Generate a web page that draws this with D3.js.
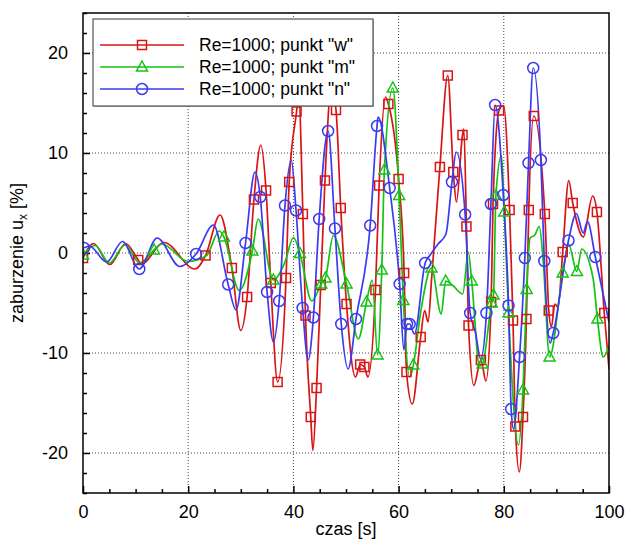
<!DOCTYPE html>
<html><head><meta charset="utf-8">
<script src="https://cdn.jsdelivr.net/npm/d3@7"></script>
<style>body{margin:0;background:#fff}svg{display:block}text{font-family:"Liberation Sans",Arial,sans-serif}</style>
</head><body>
<script>
// ---- data ----
const seriesNames = ['Re=1000; punkt "w"', 'Re=1000; punkt "m"', 'Re=1000; punkt "n"'];
const xTicks = [0, 20, 40, 60, 80, 100];
const yTicks = [-20, -10, 0, 10, 20];
// [time, value, marker?]
const redData = [
 [0,-0.5,1],[2.0,0.95],[5.1,-1.15],[8.1,0.95],[10.5,-0.7,1],[11.1,-1.1],[15.4,1.05],[21.3,-1.6],
 [23.3,-0.25,1],[26.05,3.8],[28.3,-1.5,1],[30.0,-7.75],[31.2,-4.4,1],[32.5,5.35,1],[33.8,10.8],
 [34.8,6.25,1],[35.7,-3.0,1],[37.0,-12.9,1],[38.6,-2.5,1],[39.2,7.1,1],[40.6,14.15,1],[41.0,16.0],
 [41.8,3.9,1],[42.3,-6.25,1],[43.3,-16.4,1],[43.7,-19.75],[44.4,-13.5,1],[45.2,-3.2,1],[46.0,7.25,1],
 [47.2,16.5],[48.1,14.3,1],[49.0,4.5,1],[50.1,-5.1,1],[51.8,-12.4],[52.7,-11.15,1],[53.5,-11.4,1],
 [54.15,-12.4],[55.6,-3.7,1],[56.3,6.75,1],[57.5,15.6],[58.05,14.9,1],[60.0,7.4,1],[61.05,-2.0,1],
 [61.5,-11.9,1],[62.6,-15.1],[64.2,-8.4,1],[64.95,-5.75],[65.6,-6.9],[66.3,-2.4],[67.85,8.6,1],
 [69.35,17.75,1],[70.4,8.1,1],[71.0,5.1],[72.15,11.8,1],[72.4,12.4],[72.9,2.65,1],[73.3,-7.25,1],
 [74.3,-13.25],[75.65,-10.7,1],[76.6,-12.8],[77.6,-4.9,1],[77.95,4.9,1],[79.1,14.25,1],[79.95,14.75],
 [81.1,4.3,1],[81.75,-6.75,1],[82.2,-17.35,1],[82.95,-21.9],[83.65,-16.4,1],[84.3,-6.6,1],[84.75,4.3,1],
 [85.7,13.7,1],[87.8,3.9,1],[88.55,-5.75,1],[89.05,-7.4],[89.7,-5.1],[90.3,-5.4],[91.2,0.1,1],
 [92.35,7.25],[93.1,5.0,1],[95.1,1.6],[96.9,5.7],[97.7,4.1,1],[99.1,-6.0,1],[100,-11.6]
];
const greenData = [
 [0,-0.2,1],[2.3,0.75],[5.0,-1.0],[8.0,0.8],[10.8,-1.0],[13.5,0.3,1],[15.0,0.9],[20.0,-0.85],
 [23.5,-0.25],[25.9,2.2],[26.8,1.6,1],[29.7,-3.75],[32.2,0.2,1],[33.3,3.4],[36.2,-2.7,1],[38.4,-0.9],
 [40.0,1.55],[41.25,-0.05,1],[43.5,-4.8],[45.3,-3.1,1],[46.1,-2.5,1],[47.6,1.75],[50.1,-3.1,1],
 [52.35,-8.6],[53.9,-4.9,1],[55.0,-2.7],[56.0,-10.2,1],[56.8,-1.7,1],[57.3,8.3,1],[58.9,16.5,1],
 [60.1,5.75,1],[60.9,-4.75,1],[62.1,-12.4],[62.8,-11.2,1],[64.2,-5.9],[66.25,-1.5,1],[68.1,-6.1],
 [68.95,-2.8,1],[70.3,-3.25],[72.2,-4.1],[73.25,0.1],[73.9,-2.8,1],[75.4,-11.3],[75.95,-11.1,1],
 [77.7,-5.0,1],[78.05,-4.2,1],[78.5,5.75,1],[79.55,9.75],[80.1,4.1,1],[80.9,-6.0,1],[82.8,-19.2],
 [83.65,-13.7,1],[84.35,-3.65,1],[85.0,1.5],[85.9,1.8],[86.75,2.65],[87.5,-0.9],[88.7,-10.4,1],
 [91.2,-2.0,1],[92.3,0.9],[93.9,-1.85,1],[94.8,0.4],[97.0,-2.6],[97.8,-6.6,1],[98.9,-10.4],[100,-9.3]
];
const blueData = [
 [0.2,0.5,1],[1.2,0.7],[4.5,-0.9],[7.5,1.15],[10.7,-1.6,1],[14.1,1.5],[18.4,-1.35],[21.5,-0.1,1],
 [24.8,2.8],[27.6,-3.15,1],[29.1,-5.7],[30.9,1.0,1],[32.7,8.1],[33.7,5.6,1],[35.0,-3.9,1],[36.2,-8.9],
 [37.3,-4.8,1],[38.4,4.75,1],[39.6,9.3],[40.5,4.25,1],[41.75,-5.5,1],[42.8,-10.7],[43.8,-6.45,1],
 [44.9,3.4,1],[46.6,12.2,1],[47.9,2.45,1],[49.1,-7.1,1],[50.4,-11.6],[51.9,-6.6,1],[54.6,2.75,1],
 [55.9,12.7,1],[56.1,13.6],[58.3,6.5,1],[60.2,-3.1,1],[61.0,-9.7],[61.6,-7.1,1],[62.1,-7.1,1],
 [63.0,-8.1],[65.05,-1.0,1],[66.0,-0.2],[67.5,0.9],[69.0,1.9],[70.15,7.1,1],[70.95,10.1],
 [72.65,3.85,1],[73.6,-6.0,1],[74.6,-7.9],[75.6,-10.6],[76.7,-6.0,1],[77.55,4.9,1],[78.35,14.8,1],
 [79.9,5.8,1],[80.9,-5.25,1],[81.4,-15.6,1],[81.85,-17.6],[83.0,-10.4,1],[84.0,-0.5,1],[84.7,9.0,1],
 [85.6,18.5,1],[87.05,9.3,1],[87.7,-0.8,1],[88.8,-9.0],[89.4,-8.0,1],[92.3,1.25,1],[93.8,3.95],
 [95.1,2.0],[95.9,3.15],[97.4,-0.4,1],[100,-6.9]
];
const xLabel = "czas [s]";

// ---- layout ----
const W = 628, H = 543;
const m = {left: 83, right: 19, top: 13, bottom: 50};
const pw = W - m.left - m.right, ph = H - m.top - m.bottom;
const x = d3.scaleLinear().domain([0, 100]).range([0, pw]);
const y = d3.scaleLinear().domain([-24, 24]).range([ph, 0]);

const svg = d3.select("body").append("svg").attr("width", W).attr("height", H);
const g = svg.append("g").attr("transform", `translate(${m.left},${m.top})`);

// grid
g.append("g").selectAll("line").data(xTicks.filter(d => d > 0 && d < 100)).join("line")
  .attr("x1", d => x(d)).attr("x2", d => x(d)).attr("y1", 0).attr("y2", ph)
  .attr("stroke", "#444").attr("stroke-width", 1).attr("stroke-dasharray", "1,2");
g.append("g").selectAll("line").data(yTicks).join("line")
  .attr("y1", d => y(d)).attr("y2", d => y(d)).attr("x1", 0).attr("x2", pw)
  .attr("stroke", "#444").attr("stroke-width", 1).attr("stroke-dasharray", "1,2");

// axes
const fmt = d => String(d);
const xMinor = d3.range(0, 101, 5).filter(d => !xTicks.includes(d));
const yMinor = d3.range(-24, 25, 2).filter(d => !yTicks.includes(d));
const xAx = g.append("g").attr("transform", `translate(0,${ph})`)
  .call(d3.axisBottom(x).tickValues(xTicks).tickFormat(fmt).tickSizeInner(-7).tickSizeOuter(0).tickPadding(12));
g.append("g").attr("transform", `translate(0,${ph})`)
  .call(d3.axisBottom(x).tickValues(xMinor).tickSize(-4).tickFormat(""))
  .call(s => s.select(".domain").remove());
const yAx = g.append("g")
  .call(d3.axisLeft(y).tickValues(yTicks).tickFormat(fmt).tickSizeInner(-7).tickSizeOuter(0).tickPadding(15));
g.append("g").call(d3.axisLeft(y).tickValues(yMinor).tickSize(-4).tickFormat(""))
  .call(s => s.select(".domain").remove());
g.selectAll(".tick line").attr("stroke", "#000").attr("stroke-width", 1.5);
g.selectAll(".domain").remove();
xAx.selectAll("text").attr("font-size", 18).attr("fill", "#000").attr("font-family", "Liberation Sans, Arial, sans-serif");
yAx.selectAll("text").attr("font-size", 18).attr("fill", "#000").attr("font-family", "Liberation Sans, Arial, sans-serif");

// series
const series = [
  {name: seriesNames[0], data: redData, color: "#d81414", shape: "square"},
  {name: seriesNames[1], data: greenData, color: "#14c314", shape: "triangle"},
  {name: seriesNames[2], data: blueData, color: "#3a3af2", shape: "circle"}
];
svg.append("defs").append("clipPath").attr("id", "clip")
  .append("rect").attr("width", pw).attr("height", ph);
const line = d3.line().x(d => x(d[0])).y(d => y(d[1])).curve(d3.curveMonotoneX);
const plot = g.append("g").attr("clip-path", "url(#clip)");

function marker(sel, shape, color) {
  if (shape === "square") {
    sel.append("rect").attr("x", -4.5).attr("y", -4.5).attr("width", 9).attr("height", 9)
      .attr("fill", "none").attr("stroke", color).attr("stroke-width", 1.5);
  } else if (shape === "triangle") {
    sel.append("path").attr("d", "M0,-6L5.5,4L-5.5,4Z")
      .attr("fill", "none").attr("stroke", color).attr("stroke-width", 1.5);
  } else {
    sel.append("circle").attr("r", 5.5)
      .attr("fill", "none").attr("stroke", color).attr("stroke-width", 1.5);
  }
}

series.forEach(s => {
  plot.append("path").datum(s.data).attr("d", line)
    .attr("fill", "none").attr("stroke", s.color).attr("stroke-width", 1.7);
});
series.forEach(s => {
  plot.append("g").selectAll("g").data(s.data.filter(d => d[2])).join("g")
    .attr("transform", d => `translate(${x(d[0])},${y(d[1])})`)
    .each(function() { marker(d3.select(this), s.shape, s.color); });
});

// frame
g.append("rect").attr("width", pw).attr("height", ph).attr("fill", "none")
  .attr("stroke", "#000").attr("stroke-width", 1.5);

// legend
const lg = g.append("g").attr("transform", "translate(10,6)");
lg.append("rect").attr("x", 1).attr("y", 1).attr("width", 280).attr("height", 87).attr("fill", "#888").attr("opacity", 0.5);
lg.append("rect").attr("width", 280).attr("height", 87).attr("fill", "#fff").attr("stroke", "#333").attr("stroke-width", 1);
series.forEach((s, i) => {
  const r = lg.append("g").attr("transform", `translate(0,${26 + i * 22})`);
  r.append("line").attr("x1", 7).attr("x2", 91).attr("stroke", s.color).attr("stroke-width", 1.7);
  const mg = r.append("g").attr("transform", "translate(49,0)");
  marker(mg, s.shape, s.color);
  r.append("text").attr("x", 106).attr("y", 6).attr("font-size", 17.5).attr("fill", "#000").text(s.name);
});

// axis titles
svg.append("text").attr("x", m.left + pw / 2).attr("y", 535).attr("text-anchor", "middle")
  .attr("font-size", 18).attr("fill", "#000").text(xLabel);
const yl = svg.append("text").attr("transform", `translate(23,${m.top + ph / 2}) rotate(-90)`)
  .attr("text-anchor", "middle").attr("font-size", 18).attr("fill", "#000");
yl.append("tspan").text("zaburzenie u");
yl.append("tspan").attr("font-size", 12).attr("dy", 4).text("x");
yl.append("tspan").attr("dy", -4).text(" [%]");
</script>
</body></html>
